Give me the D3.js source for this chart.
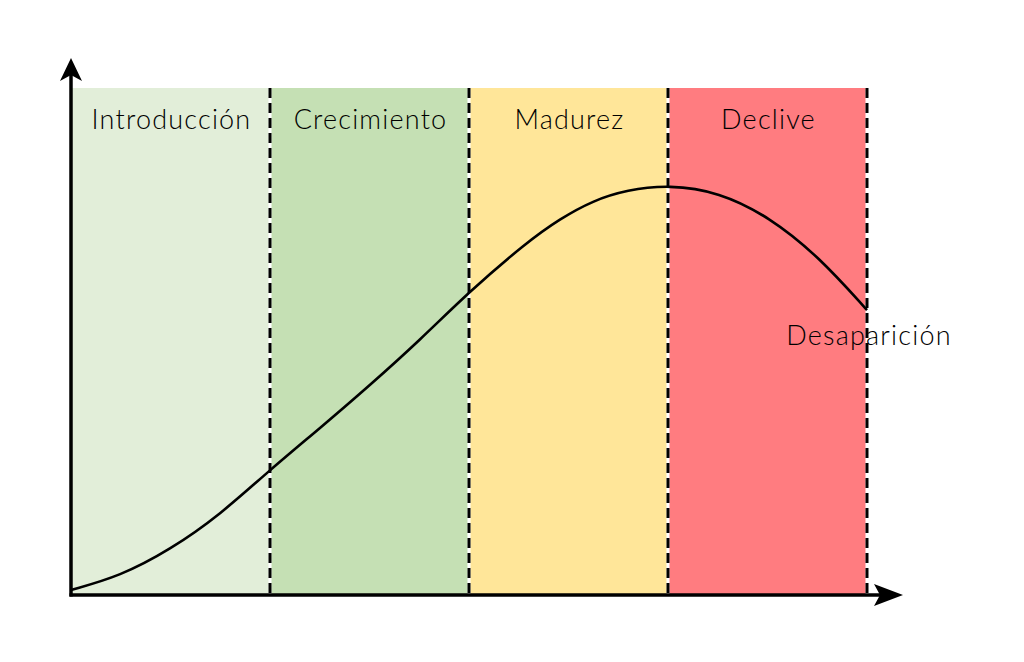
<!DOCTYPE html>
<html><head><meta charset="utf-8">
<script src="https://cdn.jsdelivr.net/npm/d3@7"></script>
<style>html,body{margin:0;padding:0;background:#fff;}svg{display:block;}</style>
</head><body>
<script>
// Data
const stages = ["Introducción", "Crecimiento", "Madurez", "Declive"];
const stageColors = ["#e2eed9", "#c5e0b4", "#ffe699", "#ff7c80"];
const curveX = [0, 0.246, 0.497, 0.749, 1, 1.251, 1.503, 1.754, 2, 2.291, 2.457, 2.623, 2.794, 3.005, 3.256, 3.508, 3.759, 4];
const curveY = [1.0, 3.7, 8.9, 15.8, 24.7, 32.9, 41.4, 50.3, 59.8, 69.6, 74.2, 77.8, 79.9, 80.9, 79.5, 74.6, 66.7, 56.2];
const endLabel = "Desaparición";

const W = 1024, H = 662;
const svg = d3.select("body").append("svg").attr("width", W).attr("height", H);

const x = d3.scaleLinear().domain([0, 4]).range([71, 867]);
const y = d3.scaleLinear().domain([0, 100]).range([595, 88]);
const font = "Lato, 'Noto Sans', sans-serif";

// bands
svg.selectAll("rect.band").data(stages).join("rect")
  .attr("class", "band")
  .attr("x", (d, i) => x(i)).attr("y", y(100))
  .attr("width", (d, i) => x(i + 1) - x(i)).attr("height", y(0) - y(100))
  .attr("fill", (d, i) => stageColors[i]);

// boundaries
const bounds = d3.range(1, stages.length + 1);
svg.selectAll("line.wb").data(bounds).join("line")
  .attr("x1", d => x(d)).attr("x2", d => x(d))
  .attr("y1", y(100)).attr("y2", y(0))
  .attr("stroke", "#fff").attr("stroke-width", 3);
svg.selectAll("line.db").data(bounds).join("line")
  .attr("x1", d => x(d)).attr("x2", d => x(d))
  .attr("y1", y(100)).attr("y2", y(0))
  .attr("stroke", "#000").attr("stroke-width", 3)
  .attr("stroke-dasharray", "10,5");

// labels
svg.selectAll("text.stage").data(stages).join("text")
  .attr("x", (d, i) => (x(i) + x(i + 1)) / 2 + 1)
  .attr("y", 129)
  .attr("text-anchor", "middle")
  .attr("font-family", font).attr("font-size", 27).attr("font-weight", 300)
  .attr("letter-spacing", 1.2)
  .attr("fill", "#000")
  .text(d => d);

// curve
const pts = curveX.map((v, i) => [v, curveY[i]]);
svg.append("path")
  .attr("d", d3.line().x(d => x(d[0])).y(d => y(d[1])).curve(d3.curveBasis)(pts))
  .attr("fill", "none").attr("stroke", "#000").attr("stroke-width", 2.6);

// end label
svg.append("text")
  .attr("x", x(4) + 2).attr("y", 345)
  .attr("text-anchor", "middle")
  .attr("font-family", font).attr("font-size", 27).attr("font-weight", 300)
  .attr("letter-spacing", 1.2)
  .attr("fill", "#000")
  .text(endLabel);

// axes
const ox = x(0), oy = y(0);
svg.append("line").attr("x1", ox).attr("x2", ox).attr("y1", oy + 1.5).attr("y2", 70)
  .attr("stroke", "#000").attr("stroke-width", 3.5);
svg.append("line").attr("x1", ox - 1.5).attr("x2", 885).attr("y1", oy).attr("y2", oy)
  .attr("stroke", "#000").attr("stroke-width", 3.5);
// arrowheads
svg.append("path")
  .attr("d", `M${ox},58 L${ox + 11},81 L${ox},75 L${ox - 11},81 Z`)
  .attr("fill", "#000");
svg.append("path")
  .attr("d", `M903,${oy} L874,${oy - 11} L880,${oy} L874,${oy + 11} Z`)
  .attr("fill", "#000");
</script>
</body></html>
